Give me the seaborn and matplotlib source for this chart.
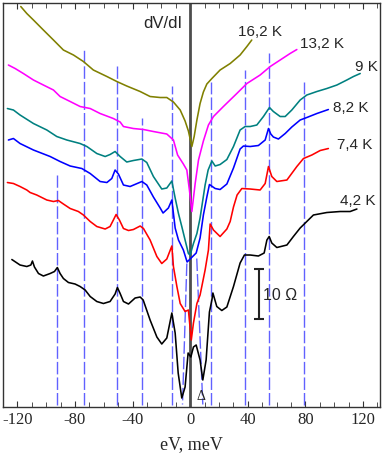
import numpy as np
import pandas as pd
import seaborn as sns
import matplotlib.pyplot as plt
from matplotlib.ticker import MultipleLocator

# dV/dI spectra (shifted vertically), eV in meV, dV/dI in Ohm
ev_162 = [-117.6, -113.4, -108.8, -101.9, -94.9, -88.0, -81.0, -74.1, -67.2, -57.8, -50.9, -44.0, -34.7, -27.8,
          -20.8, -16.2, -11.6, -6.9, -3.5, -1.2, 1.2, 2.8, 4.7, 6.9, 9.2, 11.6, 15.1, 20.8, 27.8, 34.7, 39.4, 42.8]
r_162 = [80.1, 78.7, 77.4, 75.4, 73.4, 71.4, 70.4, 69.1, 67.4, 66.1, 65.1, 64.2, 63.1, 62.1,
         61.9, 61.9, 61.0, 59.4, 57.2, 55.2, 52.1, 54.1, 57.4, 60.7, 63.0, 64.6, 65.7, 67.4, 68.7, 70.4, 72.1, 73.4]

ev_132 = [-126.2, -121.5, -115.8, -108.8, -101.9, -94.9, -90.3, -83.3, -76.4, -69.4, -62.5, -53.3, -48.6, -46.3,
          -39.4, -32.4, -25.5, -16.2, -11.6, -8.7, -4.7, -2.3, -0.5, 1.2, 3.5, 5.8, 9.2, 12.7, 16.2, 23.1,
          32.4, 39.4, 48.6, 55.6, 62.5, 69.4, 74.1]
r_132 = [68.4, 67.7, 66.7, 65.4, 64.4, 63.4, 62.1, 61.1, 60.1, 59.7, 58.7, 57.7, 57.0, 56.1,
         55.7, 55.5, 55.1, 54.6, 53.4, 50.4, 48.6, 47.4, 43.4, 39.1, 44.7, 49.4, 53.2, 56.4, 58.1, 60.1,
         62.7, 64.7, 66.4, 68.1, 69.4, 70.7, 71.5]

ev_90 = [-126.9, -122.7, -118.1, -108.8, -99.5, -92.6, -85.6, -76.4, -71.7, -64.8, -59.0, -55.6, -52.1, -48.6,
         -44.0, -39.4, -33.5, -30.1, -25.5, -19.7, -16.2, -12.7, -10.4, -8.1, -5.8, -3.5, -1.2, 0.0, 2.3, 4.7,
         6.9, 10.4, 12.5, 15.1, 17.4, 20.8, 25.5, 30.1, 34.7, 38.2, 41.7, 46.3, 50.9, 55.1, 57.8, 62.5, 66.0,
         70.6, 76.4, 81.0, 88.0, 94.9, 101.9, 108.8, 113.4, 118.1]
r_90 = [59.7, 59.4, 58.4, 56.7, 55.4, 54.1, 53.4, 52.7, 52.1, 50.7, 50.1, 50.5, 51.1, 50.1,
        49.0, 49.3, 49.6, 48.9, 46.1, 43.6, 43.8, 45.2, 41.8, 38.7, 36.1, 33.4, 30.7, 30.4, 32.7, 34.7,
        37.8, 44.4, 47.4, 49.2, 48.2, 48.5, 49.5, 52.1, 55.4, 56.1, 56.1, 56.4, 58.1, 59.9, 59.1, 58.1, 58.1,
        59.4, 61.4, 62.4, 63.1, 63.7, 64.4, 65.4, 66.1, 66.7]

ev_82 = [-126.2, -122.7, -118.1, -108.8, -97.2, -90.3, -83.3, -75.2, -69.4, -62.5, -57.8, -54.4, -52.1, -49.8,
         -46.3, -41.7, -33.5, -30.1, -25.5, -20.8, -18.8, -15.1, -12.7, -10.4, -8.1, -4.7, -2.1, 0.0, 4.2, 6.9,
         9.2, 11.6, 13.4, 17.4, 20.8, 25.5, 30.1, 34.7, 37.0, 41.7, 47.4, 52.1, 54.4, 56.0, 57.8, 61.3, 66.0,
         70.6, 76.4, 81.0, 88.0, 96.0]
r_82 = [53.4, 53.7, 52.7, 51.4, 50.1, 49.1, 48.2, 47.7, 46.7, 45.1, 44.9, 45.7, 47.4, 46.6,
        44.4, 44.1, 45.1, 44.4, 42.0, 39.8, 38.8, 39.8, 41.4, 35.8, 33.4, 31.4, 29.0, 29.6, 30.8, 33.8,
        38.4, 42.0, 44.5, 43.7, 43.5, 44.6, 47.8, 51.6, 52.2, 52.1, 52.3, 53.4, 55.7, 54.6, 54.0, 53.6, 54.7,
        56.0, 57.4, 57.9, 58.7, 59.5]

ev_74 = [-126.9, -122.7, -118.1, -113.4, -111.1, -106.5, -99.5, -94.9, -91.5, -88.0, -83.3, -77.6, -74.1, -69.4,
         -64.8, -59.0, -55.6, -53.3, -51.4, -49.1, -46.3, -42.8, -39.4, -34.7, -32.4, -27.8, -23.1, -19.7, -16.2,
         -12.7, -11.6, -9.2, -6.9, -3.5, -1.2, 0.8, 2.3, 4.7, 6.9, 8.1, 10.4, 12.7, 13.9, 16.2, 20.8, 25.5,
         27.8, 30.1, 32.6, 35.9, 41.7, 48.6, 52.1, 54.4, 56.7, 60.2, 67.2, 74.1, 78.7, 84.5, 90.3, 96.0]
r_74 = [44.9, 44.7, 44.1, 43.4, 42.9, 42.4, 41.4, 41.1, 41.3, 40.6, 39.7, 39.1, 38.4, 37.1,
        36.1, 35.6, 36.1, 37.4, 38.5, 37.4, 35.7, 35.3, 35.5, 36.2, 35.7, 33.4, 30.1, 28.7, 29.6,
        32.2, 28.1, 24.1, 20.7, 19.1, 19.4, 13.4, 16.8, 20.7, 22.4, 24.1, 27.4, 31.4, 36.6, 35.4, 34.1, 35.6,
        37.1, 40.0, 42.4, 43.7, 43.6, 43.4, 44.7, 48.1, 46.1, 45.1, 45.4, 48.1, 49.7, 50.4, 51.3, 51.7]

ev_42 = [-123.8, -118.1, -113.4, -110.6, -109.5, -108.1, -105.3, -101.9, -97.2, -94.2, -92.2, -90.3, -88.0, -84.5,
         -79.9, -76.4, -72.9, -69.4, -64.8, -60.2, -55.6, -52.1, -50.5, -48.6, -46.3, -42.8, -38.2, -34.7, -32.6,
         -27.8, -23.1, -19.7, -16.2, -12.7, -10.4, -8.3, -5.8, -3.5, -1.4, 0.5, 2.3, 4.2, 6.9, 8.8, 11.1, 13.4,
         15.1, 15.8, 18.5, 22.0, 25.5, 30.1, 34.7, 37.7, 41.7, 47.4, 51.4, 53.3, 54.9, 56.7, 60.2, 67.2, 71.7,
         76.4, 81.0, 85.6, 94.9, 104.2, 111.1, 115.8]
r_42 = [29.5, 28.4, 28.1, 28.4, 29.2, 28.0, 26.7, 26.2, 26.7, 27.1, 27.9, 26.7, 25.7, 24.9,
        24.6, 24.1, 23.4, 22.1, 21.1, 20.7, 21.1, 22.6, 23.9, 22.7, 21.1, 20.6, 21.8, 22.0, 21.4,
        17.4, 14.0, 12.6, 13.8, 18.8, 14.8, 6.8, 1.8, 4.0, 10.8, 10.0, 12.0, 12.4, 9.4, 5.4, 9.4, 19.0,
        21.4, 22.8, 20.1, 19.3, 20.0, 24.1, 28.8, 30.4, 30.4, 30.2, 30.8, 33.4, 34.1, 32.8, 31.9, 32.4, 34.1,
        35.8, 37.1, 38.4, 38.9, 39.1, 39.1, 39.6]

temps = ["16,2 K", "13,2 K", "9 K", "8,2 K", "7,4 K", "4,2 K"]
colors = ["#808000", "#ff00ff", "#008080", "#0000ff", "#ff0000", "#000000"]
# label anchor (left edge) for each curve
label_ev = [33.5, 76.5, 114.5, 99.5, 102.0, 104.0]
label_r = [75.1, 72.7, 68.1, 59.9, 52.4, 41.3]

# phonon features (dashed lines) and gap Delta
phonon_ev = [-92.5, -74.0, -51.0, -33.5, -12.3, 14.6, 38.0, 55.0, 79.0]
phonon_top = [46.4, 71.8, 68.2, 57.8, 64.2, 65.0, 67.4, 70.8, 65.0]
gap_ev_top = [-2.3, 4.6]
gap_ev_bottom = [-5.3, 8.8]
gap_r_top = [28.7, 29.7]

frames = []
for t, x, y in zip(temps, [ev_162, ev_132, ev_90, ev_82, ev_74, ev_42],
                   [r_162, r_132, r_90, r_82, r_74, r_42]):
    frames.append(pd.DataFrame({"eV": x, "R": y, "T": t}))
df = pd.concat(frames, ignore_index=True)

sns.set_style("ticks")
plt.rcParams['font.family'] = ['Liberation Serif', 'DejaVu Serif']
plt.rcParams['axes.unicode_minus'] = False

fig = plt.figure(figsize=(3.82, 4.57), dpi=100)
ax = fig.add_axes([0.008, 0.1094, 0.987, 0.884])

dash_col = "#3a3aff"
ax.vlines(phonon_ev, 0.5, phonon_top, colors=dash_col, linestyles=[(0, (9, 2.2))], lw=1.0, alpha=0.8)
for xt, xb, yt in zip(gap_ev_top, gap_ev_bottom, gap_r_top):
    ax.plot([xt, xb], [yt, 0.5], color=dash_col, ls="--", dashes=(9, 2.2), lw=1.0, alpha=0.8)

ax.axvline(0, color="#4d4d4d", lw=2)

sns.lineplot(data=df, x="eV", y="R", hue="T", hue_order=temps, palette=colors,
             estimator=None, sort=False, legend=False, lw=1.15, ax=ax)

for t, lx, ly in zip(temps, label_ev, label_r):
    ax.text(lx, ly, t, fontsize=11, family=['Liberation Sans'], ha='left', va='center')

ax.text(-5.5, 76.8, "dV/dI", fontsize=12, family=['Liberation Sans'], ha='right', va='center')

# 10 Ohm scale bar
ax.errorbar([48.0], [22.6], yerr=[5.0], color="#222222", capsize=3.5, lw=1.5, capthick=1.5)
ax.text(50.5, 22.4, "10 Ω", fontsize=11.5, family=['Liberation Sans'], ha='left', va='center')
ax.text(7.6, 2.2, "Δ", fontsize=10, ha='center', va='center')

ax.set_xlim(-129.9, 131.9)
ax.set_ylim(0, 80.8)
ax.xaxis.set_major_locator(MultipleLocator(40))
ax.xaxis.set_minor_locator(MultipleLocator(10))
ax.tick_params(axis='x', which='both', direction='in', top=True, bottom=True, labelsize=12, color="#333333")
ax.tick_params(axis='x', which='major', length=4.5)
ax.tick_params(axis='x', which='minor', length=3.5)
ax.tick_params(axis='y', left=False, labelleft=False)
ax.set_ylabel("")
ax.set_xlabel("eV, meV", fontsize=13, labelpad=6)
for s in ax.spines.values():
    s.set_visible(True)
    s.set_color("#333333")
    s.set_linewidth(1.0)

fig.savefig("out.png", dpi=100)
